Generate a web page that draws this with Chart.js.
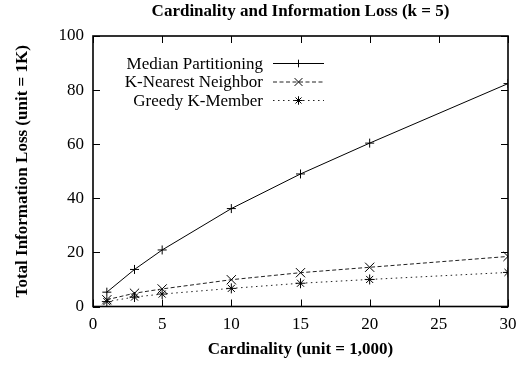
<!DOCTYPE html>
<html><head><meta charset="utf-8">
<script src="https://cdn.jsdelivr.net/npm/chart.js@4/dist/chart.umd.min.js"></script>
<style>html,body{margin:0;padding:0;background:#fff;}#wrap{width:526px;height:366px;}</style>
</head><body><div id="wrap"><canvas id="c" width="526" height="366"></canvas></div>
<script>
const cardinality = [1, 3, 5, 10, 15, 20, 30];
const medianPartitioning = [5.3, 13.7, 20.9, 36.2, 49.0, 60.4, 82.4];
const kNearestNeighbor = [2.5, 4.9, 6.5, 9.9, 12.5, 14.5, 18.5];
const greedyKMember = [1.8, 3.5, 4.6, 6.7, 8.6, 10.0, 12.6];
const seriesLabels = ['Median Partitioning', 'K-Nearest Neighbor', 'Greedy K-Member'];
const xTicks = [0, 5, 10, 15, 20, 25, 30];
const yTicks = [0, 20, 40, 60, 80, 100];
const titleText = 'Cardinality and Information Loss (k = 5)';
const xTitle = 'Cardinality (unit = 1,000)';
const yTitle = 'Total Information Loss (unit = 1K)';

const FONT = "'Liberation Serif', 'Times New Roman', Times, serif";
Chart.defaults.font.family = FONT;
Chart.defaults.font.size = 17;
Chart.defaults.color = '#000';

const pts = ys => cardinality.map((x, i) => ({x: x, y: ys[i]}));

const framePlugin = {
  id: 'frame',
  afterDraw(chart) {
    const {ctx, chartArea: a, scales} = chart;
    const xs = scales.x, ys = scales.y;
    ctx.save();
    ctx.strokeStyle = '#000';
    ctx.lineWidth = 1;
    ctx.setLineDash([]);
    const tl = 7;
    ctx.beginPath();
    xTicks.forEach(v => {
      const px = Math.round(xs.getPixelForValue(v)) + 0.5;
      ctx.moveTo(px, a.bottom); ctx.lineTo(px, a.bottom - tl);
      ctx.moveTo(px, a.top); ctx.lineTo(px, a.top + tl);
    });
    yTicks.forEach(v => {
      const py = Math.round(ys.getPixelForValue(v)) + 0.5;
      ctx.moveTo(a.left, py); ctx.lineTo(a.left + tl, py);
      ctx.moveTo(a.right, py); ctx.lineTo(a.right - tl, py);
    });
    ctx.stroke();
    ctx.lineWidth = 1.6;
    ctx.strokeRect(a.left, a.top, a.right - a.left, a.bottom - a.top);
    // legend
    const textRight = 263, lx0 = 273, lx1 = 324, rowY = [63.5, 82, 100.5];
    ctx.font = '17px ' + FONT;
    ctx.fillStyle = '#000';
    ctx.textAlign = 'right';
    ctx.textBaseline = 'middle';
    chart.data.datasets.forEach((ds, i) => {
      const y = rowY[i];
      ctx.fillText(ds.label, textRight, y + 1);
      ctx.strokeStyle = ds.borderColor;
      ctx.lineWidth = ds.borderWidth;
      ctx.setLineDash(ds.borderDash || []);
      ctx.beginPath();
      ctx.moveTo(lx0, y); ctx.lineTo(lx1, y);
      ctx.stroke();
      ctx.setLineDash([]);
      ctx.strokeStyle = '#000';
      Chart.helpers.drawPoint(ctx, {pointStyle: ds.pointStyle, radius: ds.pointRadius * 0.85, borderWidth: 1, rotation: 0}, (lx0 + lx1) / 2, y);
    });
    ctx.restore();
  }
};

const mk = (label, data, dash, style, r, color) => ({
  label: label, data: pts(data), borderColor: color, backgroundColor: '#000',
  borderWidth: 1, borderDash: dash, pointStyle: style, pointRadius: r,
  pointBorderColor: '#000', pointBorderWidth: 1, tension: 0, fill: false
});

new Chart(document.getElementById('c'), {
  type: 'line',
  data: {
    datasets: [
      mk(seriesLabels[0], medianPartitioning, [], 'cross', 4.5, '#000'),
      mk(seriesLabels[1], kNearestNeighbor, [4, 2.5], 'crossRot', 6.5, '#222'),
      mk(seriesLabels[2], greedyKMember, [1.5, 3.5], 'star', 5, '#222')
    ]
  },
  options: {
    responsive: false, animation: false, devicePixelRatio: 1,
    layout: {padding: {left: 0, right: 18, top: 0, bottom: 0}},
    plugins: {
      legend: {display: false}, tooltip: {enabled: false},
      title: {display: true, text: titleText, fullSize: false,
        font: {family: FONT, size: 17, weight: 'bold'}, color: '#000',
        padding: {top: 1.8, bottom: 13.8}}
    },
    scales: {
      x: {
        type: 'linear', min: 0, max: 30,
        afterBuildTicks: s => { s.ticks = xTicks.map(v => ({value: v})); },
        afterFit: s => { s.height = 59.5; },
        grid: {display: false, drawTicks: false}, border: {display: false},
        ticks: {padding: 8, maxRotation: 0, font: {family: FONT, size: 17}},
        title: {display: true, text: xTitle, font: {family: FONT, size: 17, weight: 'bold'}, padding: 5.8}
      },
      y: {
        min: 0, max: 100,
        afterBuildTicks: s => { s.ticks = yTicks.map(v => ({value: v})); },
        afterFit: s => { s.width = 93; },
        grid: {display: false, drawTicks: false}, border: {display: false},
        ticks: {padding: 9, font: {family: FONT, size: 17}},
        title: {display: true, text: yTitle, font: {family: FONT, size: 17, weight: 'bold'}, padding: 12.8}
      }
    }
  },
  plugins: [framePlugin]
});
</script></body></html>
